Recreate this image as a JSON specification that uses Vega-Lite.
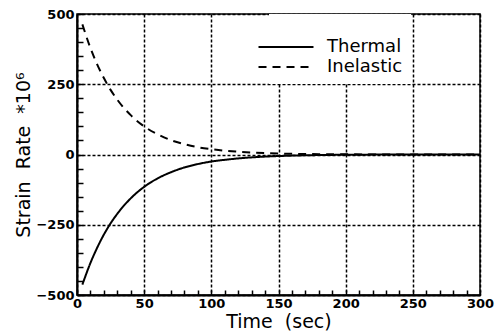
{
  "$schema": "https://vega.github.io/schema/vega-lite/v6.json",
  "width": 403,
  "height": 281,
  "autosize": "none",
  "padding": {"left": 77, "top": 14, "right": 22, "bottom": 39},
  "background": "white",
  "config": {
    "view": {"stroke": "black", "strokeWidth": 1.5},
    "font": "DejaVu Sans"
  },
  "data": {
    "values": [
      {"t": 4, "value": -463, "series": "Thermal"},
      {"t": 10, "value": -386, "series": "Thermal"},
      {"t": 15, "value": -332, "series": "Thermal"},
      {"t": 20, "value": -285, "series": "Thermal"},
      {"t": 25, "value": -245, "series": "Thermal"},
      {"t": 30, "value": -211, "series": "Thermal"},
      {"t": 40, "value": -156, "series": "Thermal"},
      {"t": 50, "value": -115, "series": "Thermal"},
      {"t": 60, "value": -85, "series": "Thermal"},
      {"t": 70, "value": -63, "series": "Thermal"},
      {"t": 80, "value": -46, "series": "Thermal"},
      {"t": 90, "value": -34, "series": "Thermal"},
      {"t": 100, "value": -25, "series": "Thermal"},
      {"t": 110, "value": -19, "series": "Thermal"},
      {"t": 120, "value": -14, "series": "Thermal"},
      {"t": 140, "value": -7.5, "series": "Thermal"},
      {"t": 160, "value": -4, "series": "Thermal"},
      {"t": 180, "value": -2, "series": "Thermal"},
      {"t": 200, "value": -1, "series": "Thermal"},
      {"t": 250, "value": 0, "series": "Thermal"},
      {"t": 300, "value": 0, "series": "Thermal"},
      {"t": 4, "value": 463, "series": "Inelastic"},
      {"t": 10, "value": 379, "series": "Inelastic"},
      {"t": 15, "value": 321, "series": "Inelastic"},
      {"t": 20, "value": 272, "series": "Inelastic"},
      {"t": 25, "value": 230, "series": "Inelastic"},
      {"t": 30, "value": 195, "series": "Inelastic"},
      {"t": 40, "value": 140, "series": "Inelastic"},
      {"t": 50, "value": 100, "series": "Inelastic"},
      {"t": 60, "value": 72, "series": "Inelastic"},
      {"t": 70, "value": 51, "series": "Inelastic"},
      {"t": 80, "value": 37, "series": "Inelastic"},
      {"t": 90, "value": 26, "series": "Inelastic"},
      {"t": 100, "value": 19, "series": "Inelastic"},
      {"t": 110, "value": 13.5, "series": "Inelastic"},
      {"t": 120, "value": 10, "series": "Inelastic"},
      {"t": 140, "value": 5, "series": "Inelastic"},
      {"t": 160, "value": 2.5, "series": "Inelastic"},
      {"t": 180, "value": 1.3, "series": "Inelastic"},
      {"t": 200, "value": 0.6, "series": "Inelastic"},
      {"t": 250, "value": 0, "series": "Inelastic"},
      {"t": 300, "value": 0, "series": "Inelastic"}
    ]
  },
  "mark": {"type": "line", "color": "black", "strokeWidth": 2, "interpolate": "monotone"},
  "encoding": {
    "x": {
      "field": "t",
      "type": "quantitative",
      "scale": {"domain": [0, 300], "nice": false},
      "axis": {
        "title": "Time\u00a0\u00a0(sec)",
        "titleFont": "DejaVu Sans",
        "titleFontSize": 19,
        "titleFontWeight": "normal",
        "titleColor": "black",
        "titlePadding": 2,
        "values": [0,10,20,30,40,50,60,70,80,90,100,110,120,130,140,150,160,170,180,190,200,210,220,230,240,250,260,270,280,290,300],
        "labelExpr": "datum.value % 50 === 0 ? datum.label : ''",
        "labelFont": "DejaVu Sans",
        "labelFontSize": 13,
        "labelFontWeight": "bold",
        "labelColor": "black",
        "labelPadding": 7,
        "labelOverlap": false,
        "labelFlush": false,
        "domainColor": "black",
        "domainWidth": 2,
        "tickColor": "black",
        "tickWidth": 1.5,
        "tickSize": -5,
        "grid": true,
        "gridColor": "black",
        "gridWidth": 1.5,
        "gridDash": [3, 2],
        "gridOpacity": {"condition": {"test": "datum.value % 50 === 0", "value": 1}, "value": 0}
      }
    },
    "y": {
      "field": "value",
      "type": "quantitative",
      "scale": {"domain": [-500, 500], "nice": false},
      "axis": {
        "title": "Strain\u00a0\u00a0Rate\u00a0\u00a0*10⁶",
        "titleFont": "DejaVu Sans",
        "titleFontSize": 19,
        "titleFontWeight": "normal",
        "titleColor": "black",
        "titlePadding": 2,
        "values": [-500,-450,-400,-350,-300,-250,-200,-150,-100,-50,0,50,100,150,200,250,300,350,400,450,500],
        "labelExpr": "datum.value % 250 === 0 ? datum.label : ''",
        "labelFont": "DejaVu Sans",
        "labelFontSize": 13,
        "labelFontWeight": "bold",
        "labelColor": "black",
        "labelPadding": 9,
        "labelOverlap": false,
        "labelFlush": false,
        "domainColor": "black",
        "domainWidth": 2,
        "tickColor": "black",
        "tickWidth": 1.5,
        "tickSize": -6,
        "grid": true,
        "gridColor": "black",
        "gridWidth": 1.5,
        "gridDash": [3, 2],
        "gridOpacity": {"condition": {"test": "datum.value % 250 === 0", "value": 1}, "value": 0}
      }
    },
    "strokeDash": {
      "field": "series",
      "type": "nominal",
      "scale": {"domain": ["Thermal", "Inelastic"], "range": [[1, 0], [8, 6]]},
      "legend": {
        "orient": "none",
        "legendX": 192,
        "legendY": 0,
        "title": " ",
        "titleFontSize": 10,
        "titlePadding": 6,
        "fillColor": "white",
        "padding": 8,
        "symbolType": "M-4,0L4,0",
        "symbolSize": 189,
        "symbolStrokeWidth": 2,
        "symbolStrokeColor": "black",
        "labelFont": "DejaVu Sans",
        "labelFontSize": 18,
        "labelColor": "black",
        "labelOffset": 32,
        "rowPadding": 2
      }
    }
  }
}
